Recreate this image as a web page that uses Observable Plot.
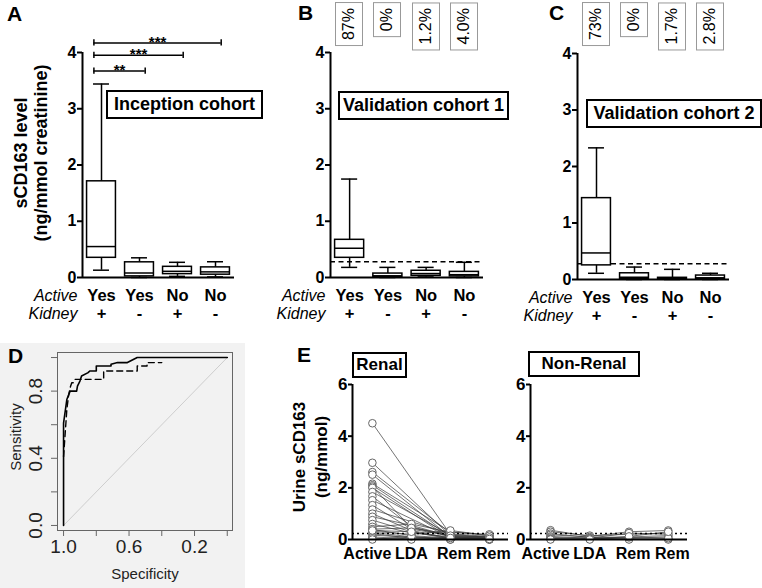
<!DOCTYPE html>
<html><head><meta charset="utf-8">
<script src="https://cdn.jsdelivr.net/npm/d3@7"></script>
<script src="https://cdn.jsdelivr.net/npm/@observablehq/plot@0.6"></script>
<style>
body{margin:0;background:#fff;}
#fig{position:relative;width:762px;height:588px;overflow:hidden;font-family:"Liberation Sans",Arial,sans-serif;color:#000;}
#fig svg{position:absolute;}
.letter{position:absolute;font-weight:bold;font-size:21px;line-height:1;}
.title{position:absolute;border:2px solid #000;font-weight:bold;font-size:18px;line-height:25px;padding:0;text-align:center;white-space:nowrap;background:#fff;}
.pct{position:absolute;border:1px solid #999;font-size:16px;writing-mode:vertical-rl;transform:rotate(180deg);width:26px;line-height:26px;padding:5px 0;text-align:center;white-space:nowrap;background:#fff;}
.ylab{position:absolute;font-weight:bold;white-space:nowrap;text-align:center;transform:translate(-50%,-50%) rotate(-90deg);}
.axlab{position:absolute;white-space:nowrap;transform:translate(-50%,-50%);}
</style>
</head><body>
<div id="fig"></div>
<script>
// ---------- data ----------
const activeLabels = ["Yes", "Yes", "No", "No"];
const kidneyLabels = ["+", "-", "+", "-"];
const boxTicks = [0, 1, 2, 3, 4];

// Panel A: Inception cohort (min, Q1, median, Q3, max)
const inceptionMin = [0.13, 0.00, 0.02, 0.01];
const inceptionQ1  = [0.35, 0.02, 0.06, 0.05];
const inceptionMed = [0.55, 0.08, 0.11, 0.10];
const inceptionQ3  = [1.71, 0.27, 0.19, 0.18];
const inceptionMax = [3.44, 0.35, 0.27, 0.28];
const bracketFrom  = [1, 1, 1];
const bracketTo    = [4, 3, 2];
const bracketY     = [4.17, 3.95, 3.67];
const bracketText  = ["***", "***", "**"];

// Panel B: Validation cohort 1
const val1Min = [0.18, 0.00, 0.01, 0.00];
const val1Q1  = [0.35, 0.01, 0.03, 0.02];
const val1Med = [0.52, 0.03, 0.07, 0.05];
const val1Q3  = [0.67, 0.07, 0.12, 0.10];
const val1Max = [1.75, 0.18, 0.18, 0.27];
const val1Pct = ["87%", "0%", "1.2%", "4.0%"];

// Panel C: Validation cohort 2
const val2Min = [0.11, 0.00, 0.00, 0.00];
const val2Q1  = [0.25, 0.01, 0.00, 0.01];
const val2Med = [0.47, 0.04, 0.02, 0.03];
const val2Q3  = [1.44, 0.11, 0.03, 0.07];
const val2Max = [2.33, 0.22, 0.18, 0.11];
const val2Pct = ["73%", "0%", "1.7%", "2.8%"];
const cutoff = 0.28;

// Panel D: ROC curves
const rocSolidSpec = [1.00, 1.00, 0.99, 0.98, 0.96, 0.92, 0.915, 0.90, 0.89, 0.85, 0.84, 0.80, 0.80, 0.71, 0.71, 0.67, 0.61, 0.55, 0.00];
const rocSolidSens = [0.00, 0.61, 0.68, 0.75, 0.80, 0.80, 0.83, 0.86, 0.89, 0.91, 0.92, 0.92, 0.95, 0.95, 0.96, 0.97, 0.97, 1.00, 1.00];
const rocDashSpec = [1.00, 0.99, 0.98, 0.97, 0.96, 0.95, 0.94, 0.93, 0.755, 0.755, 0.55, 0.55, 0.49, 0.49, 0.40];
const rocDashSens = [0.41, 0.55, 0.69, 0.77, 0.82, 0.85, 0.85, 0.87, 0.87, 0.92, 0.92, 0.95, 0.95, 0.97, 0.97];
const specTicks = [1.0, 0.8, 0.6, 0.4, 0.2, 0.0];
const specLabelTicks = [1.0, 0.6, 0.2];
const sensTicks = [0.0, 0.2, 0.4, 0.6, 0.8, 1.0];
const sensLabelTicks = [0.0, 0.4, 0.8];

// Panel E: urine sCD163 per patient over time (null = not measured)
const timeLabels = ["Active", "LDA", "Rem", "Rem"];
const eTicks = [0, 2, 4, 6];
const renalActive = [4.50, 2.97, 2.61, 2.51, 2.16, 2.10, 2.05, 2.00, 1.84, 1.67, 1.52, 1.33, 1.16, 1.00, 0.88, 0.75, 0.60, 0.49, 0.39, 0.32, 0.28, 0.23, 0.17, 0.10, 0.05, 0.00, 0.40, 0.35];
const renalLDA    = [null, null, null, null, null, null, 0.45, null, null, 0.50, null, 0.40, null, 0.35, 0.55, 0.30, 0.25, 0.60, 0.15, 0.20, 0.10, 0.05, 0.08, 0.02, 0.00, 0.12, 0.45, 0.30];
const renalRem1   = [0.20, 0.15, 0.25, 0.10, 0.30, 0.12, 0.20, 0.05, 0.18, 0.10, 0.08, 0.15, 0.22, 0.05, 0.12, 0.02, 0.10, 0.28, 0.05, 0.35, 0.02, 0.08, 0.00, 0.03, 0.01, 0.00, 0.15, 0.06];
const renalRem2   = [null, 0.10, null, 0.05, 0.15, null, 0.08, 0.02, null, 0.05, null, 0.10, 0.12, null, 0.06, null, 0.04, 0.20, 0.02, 0.15, 0.00, 0.03, 0.00, null, 0.01, 0.00, 0.08, 0.02];
const nonRenalActive = [0.36, 0.30, 0.23, 0.18, 0.12, 0.08, 0.04, 0.02, 0.00];
const nonRenalLDA    = [0.12, 0.15, 0.08, 0.10, 0.05, 0.06, 0.02, 0.03, 0.00];
const nonRenalRem1   = [0.30, 0.20, 0.10, 0.05, 0.25, 0.02, 0.00, 0.08, 0.12];
const nonRenalRem2   = [0.35, 0.25, 0.15, 0.10, 0.20, 0.02, 0.00, 0.05, 0.30];
const eCutoff = 0.23;

// ---------- helpers ----------
const FONT = "Liberation Sans, Arial, sans-serif";
const fig = document.getElementById("fig");
function place(node, left, top) { node.style.left = left + "px"; node.style.top = top + "px"; fig.appendChild(node); return node; }
function html(cls, text, left, top, extra) {
  const d = document.createElement("div"); d.className = cls; d.innerHTML = text;
  if (extra) Object.assign(d.style, extra);
  return place(d, left, top);
}
const intFmt = d => String(d);

function boxPanel(cfg) {
  const stats = cfg.min.map((m, k) => ({i: k + 1, min: m, q1: cfg.q1[k], med: cfg.med[k], q3: cfg.q3[k], max: cfg.max[k]}));
  const hw = 0.38, cw = 0.21;
  const marks = [];
  if (cfg.threshold != null) marks.push(Plot.ruleY([cfg.threshold], {strokeDasharray: "5,3.5", strokeWidth: 1.6}));
  marks.push(
    Plot.ruleX(stats, {x: "i", y1: "min", y2: "q1", strokeWidth: 1.5}),
    Plot.ruleX(stats, {x: "i", y1: "q3", y2: "max", strokeWidth: 1.5}),
    Plot.ruleY(stats, {y: "min", x1: d => d.i - cw, x2: d => d.i + cw, strokeWidth: 1.5}),
    Plot.ruleY(stats, {y: "max", x1: d => d.i - cw, x2: d => d.i + cw, strokeWidth: 1.5}),
    Plot.rect(stats, {x1: d => d.i - hw, x2: d => d.i + hw, y1: "q1", y2: "q3", fill: "white", stroke: "black", strokeWidth: 1.5}),
    Plot.ruleY(stats, {y: "med", x1: d => d.i - hw, x2: d => d.i + hw, strokeWidth: 1.5})
  );
  if (cfg.brackets) {
    const br = cfg.brackets;
    const ends = br.flatMap(b => [{x: b.from - 0.2, y: b.y}, {x: b.to + 0.15, y: b.y}]);
    marks.push(
      Plot.ruleY(br, {y: "y", x1: d => d.from - 0.2, x2: d => d.to + 0.15, strokeWidth: 1.5}),
      Plot.ruleX(ends, {x: "x", y1: d => d.y - 0.055, y2: d => d.y + 0.055, strokeWidth: 1.5}),
      Plot.text(br, {x: d => (d.from - 0.2 + d.to + 0.15) / 2, y: "y", text: "label", lineAnchor: "bottom", dy: 4, fontSize: 15})
    );
  }
  marks.push(
    Plot.ruleX([0.5], {strokeWidth: 2}),
    Plot.ruleY([0], {strokeWidth: 2}),
    Plot.axisY({ticks: boxTicks, tickFormat: intFmt, tickSize: 5, tickPadding: 1, strokeWidth: 2, fontSize: 16}),
    Plot.axisX({ticks: [1, 2, 3, 4], tickFormat: i => activeLabels[i - 1], tickSize: 0, tickPadding: 12, fontSize: 16.5}),
    Plot.axisX({ticks: [1, 2, 3, 4], tickFormat: i => kidneyLabels[i - 1], tickSize: 0, tickPadding: 30, fontSize: 16.5}),
    Plot.text(["Active"], {text: d => d, frameAnchor: "bottom-left", textAnchor: "end", lineAnchor: "top", dx: -5, dy: 12, fontStyle: "italic", fontWeight: "normal", fontSize: 16}),
    Plot.text(["Kidney"], {text: d => d, frameAnchor: "bottom-left", textAnchor: "end", lineAnchor: "top", dx: -5, dy: 30, fontStyle: "italic", fontWeight: "normal", fontSize: 16})
  );
  const p = Plot.plot({
    width: cfg.width, height: 320,
    marginLeft: cfg.axisX - cfg.left, marginRight: cfg.width - (cfg.endX - cfg.left),
    marginTop: cfg.y4, marginBottom: 320 - cfg.y0,
    x: {domain: [0.5, 4.5], label: null},
    y: {domain: [0, 4], label: null},
    style: {background: "transparent", overflow: "visible", fontFamily: FONT, fontSize: "16px", fontWeight: "bold", color: "black"},
    marks
  });
  place(p, cfg.left, 0);
  return p;
}

// ---------- Panel A ----------
const pA = boxPanel({left: 0, width: 250, axisX: 82, endX: 234, y4: 52, y0: 277,
  min: inceptionMin, q1: inceptionQ1, med: inceptionMed, q3: inceptionQ3, max: inceptionMax,
  brackets: bracketFrom.map((f, k) => ({from: f, to: bracketTo[k], y: bracketY[k], label: bracketText[k]}))});

// ---------- Panel B ----------
const pB = boxPanel({left: 250, width: 250, axisX: 330, endX: 483, y4: 52, y0: 277,
  min: val1Min, q1: val1Q1, med: val1Med, q3: val1Q3, max: val1Max, threshold: cutoff});

// ---------- Panel C ----------
const pC = boxPanel({left: 500, width: 262, axisX: 577, endX: 729, y4: 53, y0: 279,
  min: val2Min, q1: val2Q1, med: val2Med, q3: val2Q3, max: val2Max, threshold: cutoff});

// percentage boxes placed with the plots' x scales
function pctBoxes(plot, left, pcts) {
  const xs = plot.scale("x");
  pcts.forEach((t, k) => html("pct", t, left + xs.apply(k + 1) - 14, 2));
}
pctBoxes(pB, 250, val1Pct);
pctBoxes(pC, 500, val2Pct);

// titles / letters / y label
html("letter", "A", 7, 3);
html("letter", "B", 298, 2);
html("letter", "C", 549, 2);
html("title", "Inception cohort", 106, 90, {width: "153px"});
html("title", "Validation cohort 1", 338, 91, {width: "167px"});
html("title", "Validation cohort 2", 586, 99, {width: "172px"});
html("ylab", "sCD163 level<br>(ng/mmol creatinine)", 31, 153, {fontSize: "18px", lineHeight: "20px"});

// ---------- Panel D ----------
const solid = rocSolidSpec.map((s, k) => ({spec: s, sens: rocSolidSens[k]}));
const dashed = rocDashSpec.map((s, k) => ({spec: s, sens: rocDashSens[k]}));
const pD = Plot.plot({
  width: 245, height: 245, marginLeft: 57, marginRight: 13, marginTop: 9, marginBottom: 58,
  x: {domain: [1.037, -0.032], label: null},
  y: {domain: [-0.03, 1.03], label: null},
  style: {background: "#f2f2f2", overflow: "visible", fontFamily: FONT, fontSize: "19px", fontWeight: "normal", color: "#222"},
  marks: [
    Plot.frame({stroke: "#666", strokeWidth: 1}),
    Plot.line([{spec: 1, sens: 0}, {spec: 0, sens: 1}], {x: "spec", y: "sens", stroke: "#c4c4c4", strokeWidth: 0.8}),
    Plot.line(dashed, {x: "spec", y: "sens", stroke: "black", strokeWidth: 1.4, strokeDasharray: "6,4"}),
    Plot.line(solid, {x: "spec", y: "sens", stroke: "black", strokeWidth: 1.6}),
    Plot.axisX({ticks: specTicks, tickFormat: d => specLabelTicks.includes(d) ? d.toFixed(1) : "", tickSize: 6, tickPadding: 3, stroke: "#666"}),
    Plot.axisY({ticks: sensTicks, tickFormat: () => "", tickSize: 6, stroke: "#666"}),
    Plot.text(sensLabelTicks, {y: d => d, text: d => d.toFixed(1), frameAnchor: "left", dx: -22, rotate: -90, textAnchor: "middle", lineAnchor: "middle"})
  ]
});
place(pD, 0, 343);
html("letter", "D", 8, 345, {});
html("ylab", "Sensitivity", 15, 437, {fontWeight: "normal", fontSize: "15px", color: "#222"});
html("axlab", "Specificity", 145, 573, {fontSize: "15px", color: "#222"});

// ---------- Panel E ----------
function longData(series) {
  const rows = [];
  series[0].forEach((_, id) => series.forEach((arr, t) => { if (arr[id] != null) rows.push({id, t: t + 1, v: arr[id]}); }));
  return rows;
}
function ePanel(rows, left, width, axisX, endX) {
  const top = 330, h = 250;
  const lab = i => timeLabels[i - 1];
  const p = Plot.plot({
    width, height: h,
    marginLeft: axisX - left, marginRight: width - (endX - left),
    marginTop: 384 - top, marginBottom: top + h - 539,
    x: {domain: [0.49, 4.49], label: null},
    y: {domain: [0, 6], label: null},
    style: {background: "transparent", overflow: "visible", fontFamily: FONT, fontSize: "16px", fontWeight: "bold", color: "black"},
    marks: [
      Plot.line(rows, {x: "t", y: "v", z: "id", stroke: "#3a3a3a", strokeWidth: 0.7}),
      Plot.ruleY([eCutoff], {strokeDasharray: "2,3", strokeWidth: 1.6}),
      Plot.dot(rows, {x: "t", y: "v", r: 3.8, fill: "white", stroke: "#666", strokeWidth: 1}),
      Plot.ruleX([0.49], {strokeWidth: 2}),
      Plot.ruleY([0], {strokeWidth: 2}),
      Plot.axisY({ticks: eTicks, tickFormat: intFmt, tickSize: 4, tickPadding: 1, strokeWidth: 2, fontSize: 17}),
      Plot.axisX({ticks: [1], tickFormat: lab, tickSize: 0, tickPadding: 8, fontSize: 16, dx: -5}),
      Plot.axisX({ticks: [2], tickFormat: lab, tickSize: 0, tickPadding: 8, fontSize: 16}),
      Plot.axisX({ticks: [3, 4], tickFormat: lab, tickSize: 0, tickPadding: 8, fontSize: 16, dx: 4})
    ]
  });
  place(p, left, top);
  return p;
}
ePanel(longData([renalActive, renalLDA, renalRem1, renalRem2]), 290, 225, 352, 508);
ePanel(longData([nonRenalActive, nonRenalLDA, nonRenalRem1, nonRenalRem2]), 500, 262, 530, 687);
html("letter", "E", 297, 344);
html("title", "Renal", 352, 352, {fontSize: "17px", lineHeight: "22px", width: "51px"});
html("title", "Non-Renal", 528, 351, {fontSize: "17px", lineHeight: "22px", width: "108px"});
html("ylab", "Urine sCD163<br>(ng/mmol)", 311, 457, {fontSize: "17px", lineHeight: "22px"});
</script>
</body></html>
